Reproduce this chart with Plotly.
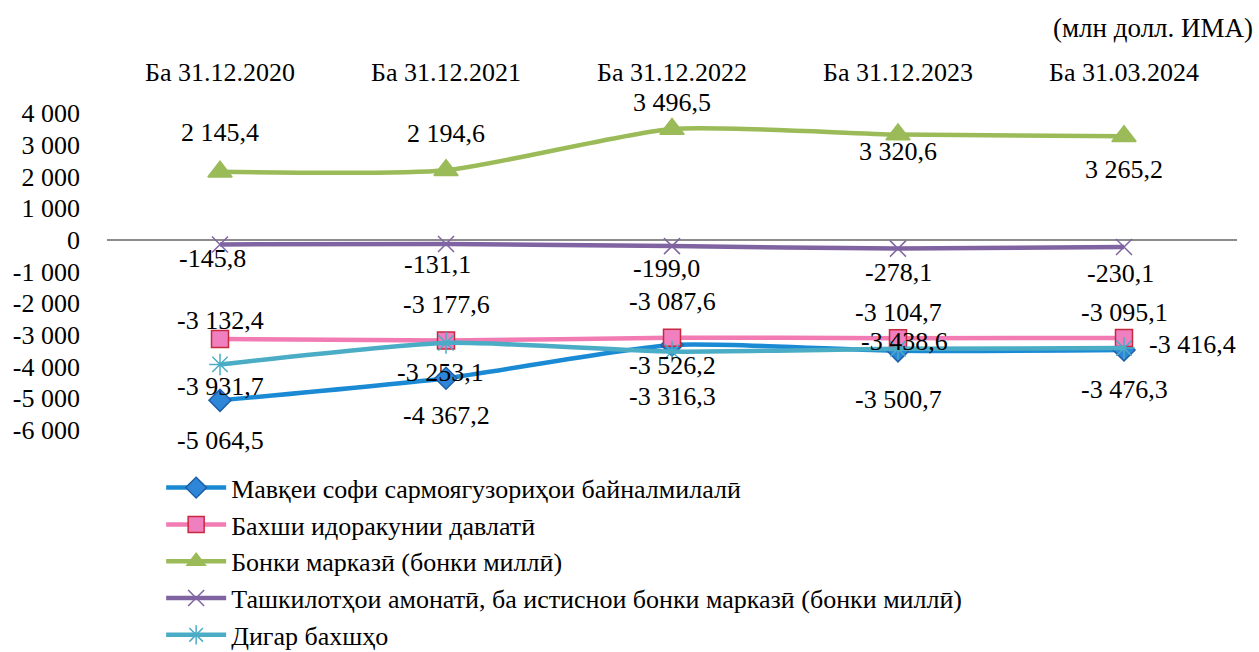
import plotly.graph_objects as go

# Санаҳо (категорияҳо)
sanaho = ['Ба 31.12.2020', 'Ба 31.12.2021', 'Ба 31.12.2022', 'Ба 31.12.2023', 'Ба 31.03.2024']

# Қиматҳо (млн долл. ИМА)
mavkei_sofi = [-5064.5, -4367.2, -3316.3, -3500.7, -3476.3]
bakhshi_davlati = [-3132.4, -3177.6, -3087.6, -3104.7, -3095.1]
bonki_markazi = [2145.4, 2194.6, 3496.5, 3320.6, 3265.2]
tashkilotho_amonati = [-145.8, -131.1, -199.0, -278.1, -230.1]
digar_bakhsho = [-3931.7, -3253.1, -3526.2, -3438.6, -3416.4]

y_ticks = [4000, 3000, 2000, 1000, 0, -1000, -2000, -3000, -4000, -5000, -6000]


def fmt_int(v):
    return f'{v:,}'.replace(',', ' ')


def fmt_val(v):
    return f'{v:,.1f}'.replace(',', ' ').replace('.', ',')


FONT = 'Liberation Serif'

seriyaho = [
    dict(name='Мавқеи софи сармоягузориҳои байналмилалӣ', y=mavkei_sofi,
         color='#1A8AD4', symbol='diamond', msize=17, mcolor='#2E86D8', mline='#1F5FA8',
         dy=[40, 37, 52, 49, 39], dx=[0, 0, 0, 0, 0]),
    dict(name='Бахши идоракунии давлатӣ', y=bakhshi_davlati,
         color='#F27BB3', symbol='square', msize=17, mcolor='#F07FBF', mline='#C8283C',
         dy=[-19, -36, -36, -26, -25], dx=[0, 0, 0, 0, 0]),
    dict(name='Бонки марказӣ (бонки миллӣ)', y=bonki_markazi,
         color='#9BBB59', symbol='triangle-up', msize=21, mcolor='#9BBB59', mline='#9BBB59',
         dy=[-39, -37, -26, 17, 33], dx=[0, 0, 0, 0, 0]),
    dict(name='Ташкилотҳои амонатӣ, ба истиснои бонки марказӣ (бонки миллӣ)', y=tashkilotho_amonati,
         color='#8064A2', symbol='x-thin-open', msize=16, mcolor='#8064A2', mline='#8064A2',
         dy=[14, 21, 22, 24, 26], dx=[-8, -9, -6, 0, -4]),
    dict(name='Дигар бахшҳо', y=digar_bakhsho,
         color='#4BACC6', symbol='asterisk-open', msize=18, mcolor='#4BACC6', mline='#4BACC6',
         dy=[22, 30, 14, -7, -4], dx=[0, -6, 0, 6, 68]),
]

fig = go.Figure()
annotations = []

for i, s in enumerate(seriyaho):
    fig.add_trace(go.Scatter(
        x=sanaho,
        y=s['y'],
        mode='lines+markers',
        name=s['name'],
        legendgroup=str(i),
        line=dict(color=s['color'], width=4.5, shape='spline', smoothing=0.6),
        marker=dict(symbol=s['symbol'], size=s['msize'], color=s['mcolor'],
                    line=dict(color=s['mline'], width=1.5)),
    ))
    for j, v in enumerate(s['y']):
        annotations.append(dict(
            x=sanaho[j], y=v, text=fmt_val(v), showarrow=False,
            xshift=s['dx'][j], yshift=-s['dy'][j],
            font=dict(family=FONT, size=26, color='black'),
        ))

annotations.append(dict(
    text='(млн долл. ИМА)', xref='paper', yref='paper', x=1.016, y=1.0,
    xanchor='right', yanchor='bottom', yshift=68, showarrow=False,
    font=dict(family=FONT, size=27, color='black'),
))

fig.update_layout(
    width=1259,
    height=652,
    margin=dict(l=107, r=22, t=113, b=222, autoexpand=False),
    paper_bgcolor='white',
    plot_bgcolor='white',
    font=dict(family=FONT, size=26, color='black'),
    separators=', ',
    showlegend=True,
    legend=dict(
        xref='container', yref='container',
        x=0.128, y=0.288, xanchor='left', yanchor='top',
        font=dict(family=FONT, size=26, color='black'),
        tracegroupgap=0, traceorder='grouped', itemwidth=60,
    ),
    annotations=annotations,
    xaxis=dict(
        side='top', showgrid=False, showline=False, zeroline=False,
        range=[-0.5, 4.5], automargin=False,
        ticks='', ticklabelstandoff=26,
        tickfont=dict(family=FONT, size=26, color='black'),
    ),
    yaxis=dict(
        range=[-6000, 4000], tickvals=y_ticks, ticktext=[fmt_int(v) for v in y_ticks],
        showgrid=False, showline=False, ticks='', ticklabelstandoff=26,
        automargin=False,
        zeroline=True, zerolinecolor='#8C8C8C', zerolinewidth=2,
        tickfont=dict(family=FONT, size=26, color='black'),
    ),
)

# убрать стандартный отступ страницы
fig.write_html('out.html', config={'displayModeBar': False},
               post_script="document.body.style.margin='0';")
